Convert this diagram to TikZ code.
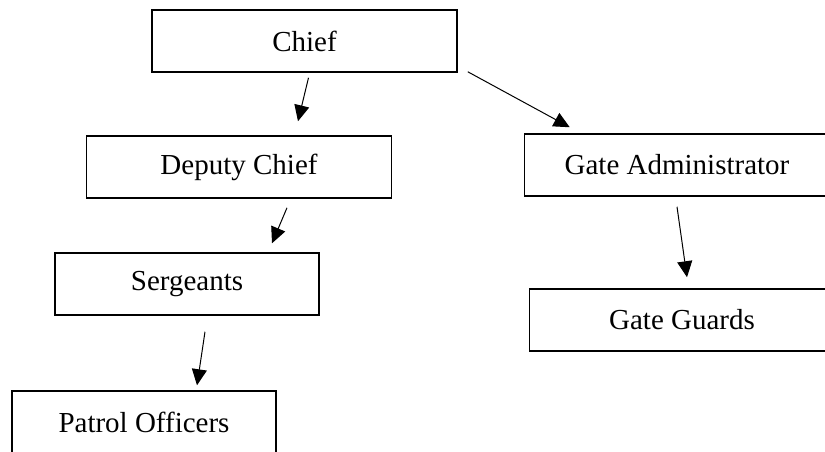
\documentclass[tikz,border=0pt]{standalone}
\usepackage{fontspec}
\setmainfont{Liberation Serif}
\usetikzlibrary{arrows.meta}

\begin{document}
\begin{tikzpicture}[
    x=0.5pt, y=-0.5pt,
    rank/.style={rectangle, draw, line width=0.75pt, minimum height=31pt, inner sep=0pt, text centered, font=\fontsize{14.5}{17}\selectfont},
    wide/.style={rank, minimum width=152.5pt},
    narrow/.style={rank, minimum width=132pt},
    arr/.style={-{Triangle[length=8pt,width=7.5pt]}, line width=0.5pt}
]
\useasboundingbox (0,0) rectangle (825,451);

% Top
\node[wide] (chief) at (304.5,41) {Chief};

% Second row
\node[wide] (deputy) at (239,167) {Deputy Chief};
\node[wide] (gate-admin) at (677,165) {Gate Administrator};

% Third row
\node[narrow] (sergeants) at (187,284) {Sergeants};
\node[wide] (gate-guards) at (682,320) {Gate Guards};

% Bottom
\node[narrow] (patrol) at (144,422) {Patrol Officers};

% Connections
\draw[arr] ([xshift=2pt,yshift=-2.5pt]chief.south) -- ([xshift=29.5pt,yshift=7pt]deputy.north);
\draw[arr] ([xshift=5pt,yshift=0.5pt]chief.south east) -- ([xshift=23pt,yshift=3pt]gate-admin.north west);
\draw[arr] ([xshift=24pt,yshift=-4.5pt]deputy.south) -- ([xshift=42.5pt,yshift=4.5pt]sergeants.north);
\draw[arr] ([xshift=9pt,yshift=-8pt]sergeants.south) -- ([xshift=26.5pt,yshift=2.5pt]patrol.north);
\draw[arr] ([yshift=-5pt]gate-admin.south) -- ([xshift=2.5pt,yshift=5.5pt]gate-guards.north);

\end{tikzpicture}
\end{document}
